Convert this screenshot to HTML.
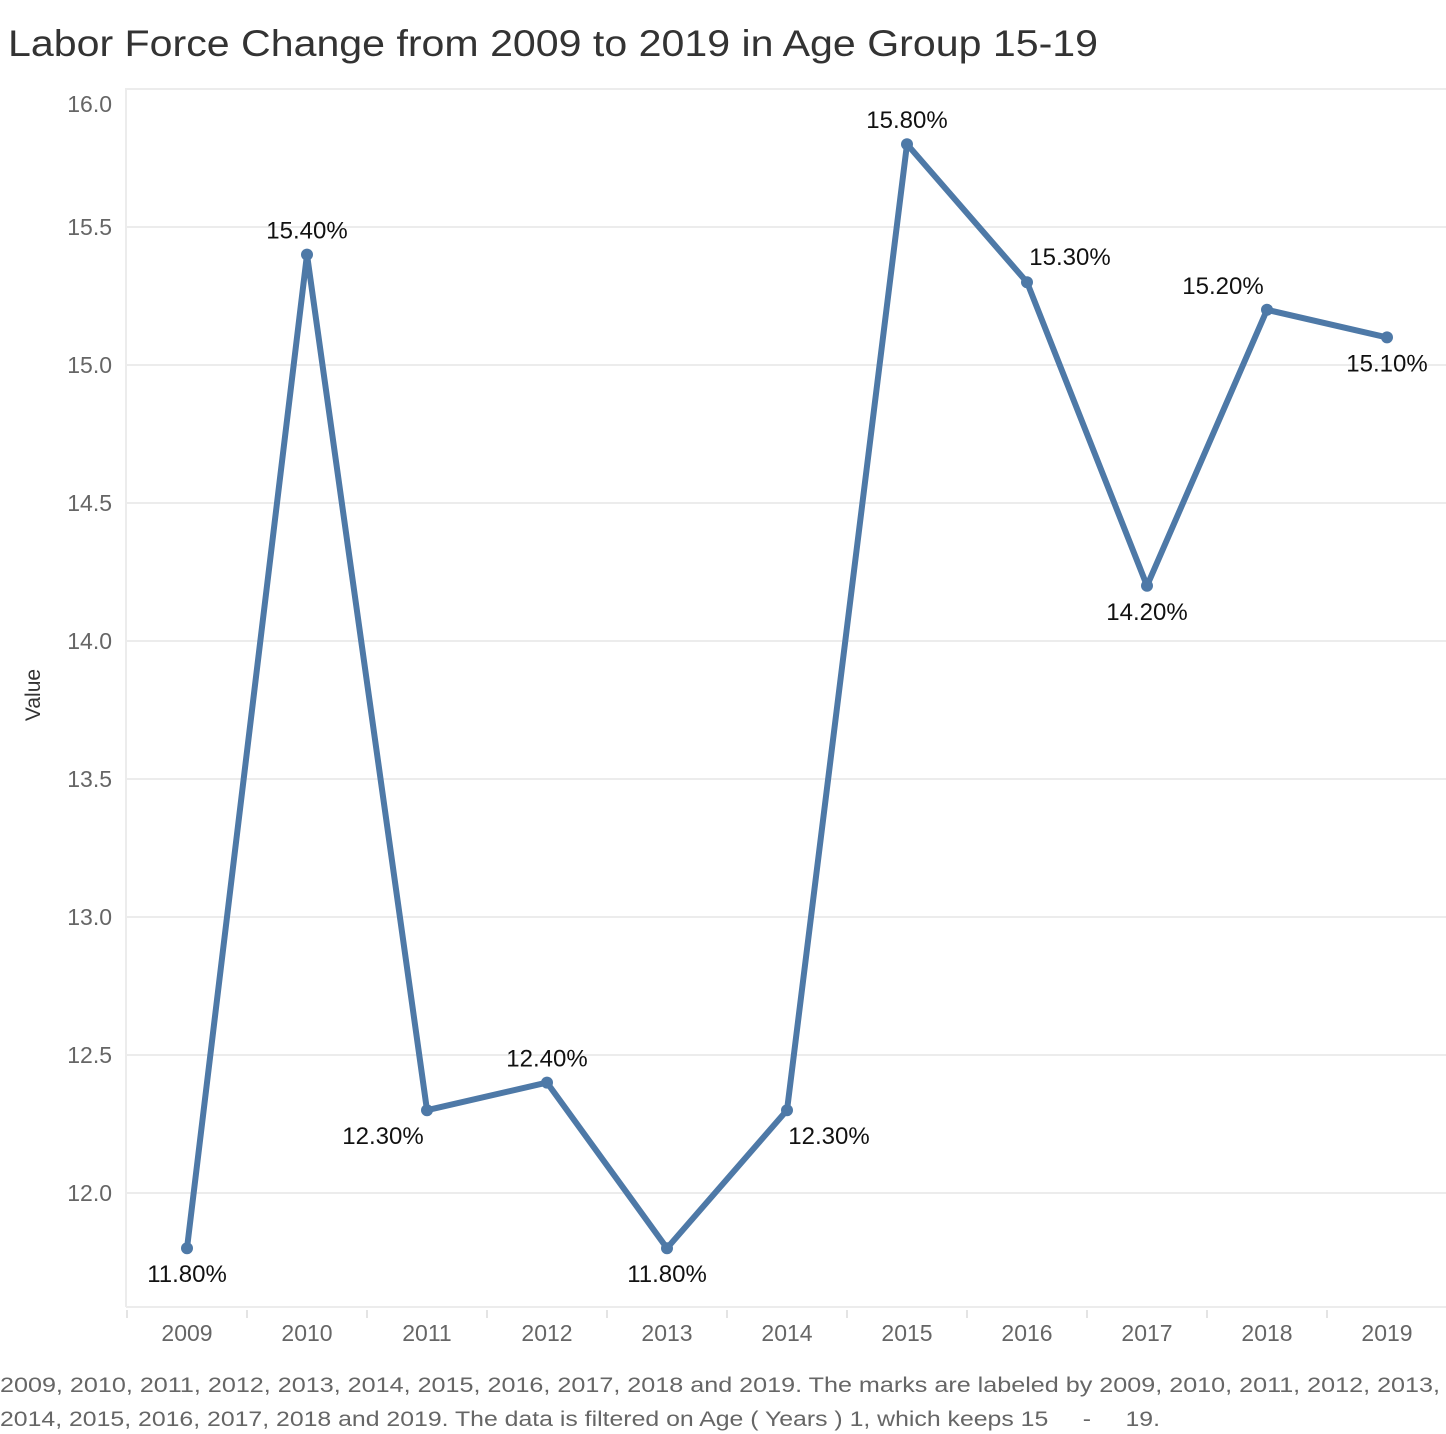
<!DOCTYPE html>
<html><head><meta charset="utf-8"><style>
body{margin:0;background:#fff;font-family:"Liberation Sans",sans-serif;}
svg{display:block}
</style></head><body>
<svg id="chart" width="1446" height="1434">
<text x="8" y="56" font-size="37" fill="#333" textLength="1090" lengthAdjust="spacingAndGlyphs">Labor Force Change from 2009 to 2019 in Age Group 15-19</text>
<g id="grid"></g>
<g id="axes"></g>
<text transform="translate(40,695) rotate(-90)" text-anchor="middle" font-size="21" fill="#333">Value</text>
<g id="marks"></g>
<text x="0" y="1392" font-size="21" fill="#666" textLength="1440" lengthAdjust="spacingAndGlyphs">2009, 2010, 2011, 2012, 2013, 2014, 2015, 2016, 2017, 2018 and 2019.  The marks are labeled by 2009, 2010, 2011, 2012, 2013,</text>
<text x="0" y="1426" font-size="21" fill="#666" textLength="1160" lengthAdjust="spacingAndGlyphs" xml:space="preserve">2014, 2015, 2016, 2017, 2018 and 2019. The data is filtered on Age ( Years ) 1, which keeps 15     -     19.</text>
</svg>
<script>
const years=["2009","2010","2011","2012","2013","2014","2015","2016","2017","2018","2019"];
const values=[11.8,15.4,12.3,12.4,11.8,12.3,15.8,15.3,14.2,15.2,15.1];
const yTicks=[12.0,12.5,13.0,13.5,14.0,14.5,15.0,15.5,16.0];
const labelPos=["b","t","bl","t","b","br","t","tr","b","tl","b"];
const NS="http://www.w3.org/2000/svg";
const L=126,R=1446,T=88,B=1307;
const y=v=>1193-(v-12)*276;
const x=i=>187+i*120;
function mk(tag,attrs,parent){const e=document.createElementNS(NS,tag);for(const k in attrs)e.setAttribute(k,attrs[k]);parent.appendChild(e);return e;}
const grid=document.getElementById('grid'),axes=document.getElementById('axes'),marks=document.getElementById('marks');
yTicks.forEach(t=>{
 const gy=Math.max(y(t),T+1);
 const g=mk('line',{x1:L,x2:R,y1:gy,y2:gy,stroke:'#ececec','stroke-width':2},grid);
 
 
 const tx=mk('text',{x:112,y:Math.max(y(t),T+16)+8,'text-anchor':'end','font-size':23,fill:'#666'},axes);
 tx.textContent=t.toFixed(1);
 
 
});
const ax=mk('line',{x1:L,x2:L,y1:T,y2:B,stroke:'#ececec','stroke-width':2},axes);


const bx=mk('line',{x1:L,x2:R,y1:B,y2:B,stroke:'#ececec','stroke-width':2},axes);


years.forEach((yr,i)=>{
 const tk=mk('line',{x1:x(i)-60,x2:x(i)-60,y1:1310,y2:1318,stroke:'#e4e4e4','stroke-width':2},axes);
 
 
 const t=mk('text',{x:x(i),y:1341,'text-anchor':'middle','font-size':23,fill:'#666'},axes);
 t.textContent=yr;
 
 
});
const pl=mk('polyline',{points:values.map((v,i)=>x(i)+','+y(v)).join(' '),fill:'none',stroke:'#4e79a7','stroke-width':6,'stroke-linejoin':'round'},marks);


values.forEach((v,i)=>{
 const c=mk('circle',{cx:x(i),cy:y(v),r:6,fill:'#4e79a7'},marks);
 
 
 const p=labelPos[i];let dx=0,dy=0;
 if(p==='t')dy=-16;if(p==='b')dy=34;
 if(p==='bl'){dx=-44;dy=34;}if(p==='br'){dx=42;dy=34;}
 if(p==='tr'){dx=43;dy=-17;}if(p==='tl'){dx=-44;dy=-16;}
 const t=mk('text',{x:x(i)+dx,y:y(v)+dy,'text-anchor':'middle','font-size':24,fill:'#111'},marks);
 t.textContent=v.toFixed(2)+'%';
 
 
});
</script>
</body></html>
